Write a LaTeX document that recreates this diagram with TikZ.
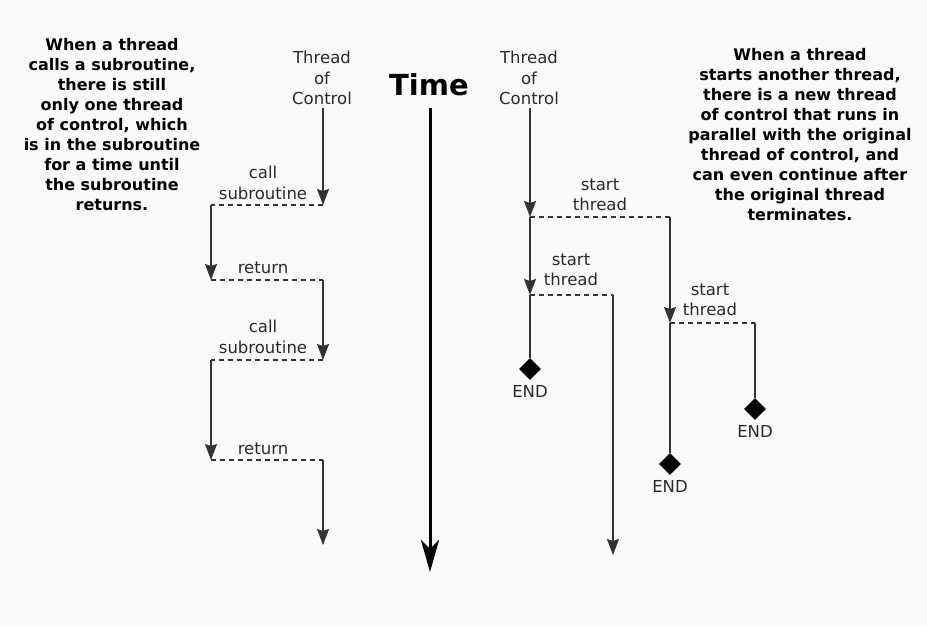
\documentclass[tikz,border=0pt]{standalone}
\usepackage{fontspec}
\setmainfont{DejaVu Sans}
\usetikzlibrary{arrows.meta,positioning,shapes.geometric}
\definecolor{linegray}{HTML}{333333}
\definecolor{txtgray}{HTML}{2A2A2A}
\definecolor{paper}{HTML}{FAFAFA}

\begin{document}
\begin{tikzpicture}[
    x=1pt, y=-1pt,
    >={Stealth[width=12pt,length=16pt,inset=2pt]},
    flow/.style={draw=linegray, line width=1.4pt},
    jump/.style={draw=linegray, line width=1.2pt, dash pattern=on 5pt off 4pt},
    lbl/.style={align=center, font=\fontsize{16.5}{20.5}\selectfont, text=txtgray, inner sep=0pt},
    note/.style={align=center, font=\fontsize{16}{20}\selectfont\bfseries, inner sep=0pt},
    stopmark/.style={diamond, fill=black, minimum size=22pt, inner sep=0pt}
    ]

    % page
    \fill[paper] (0,0) rectangle (927,625);
    \useasboundingbox (0,0) rectangle (927,625);

    % texts
    \node[note] (noteL) at (112,125) {When a thread\\calls a subroutine,\\there is still\\only one thread\\of control, which\\is in the subroutine\\for a time until\\the subroutine\\returns.};
    \node[note] (noteR) at (800,135) {When a thread\\starts another thread,\\there is a new thread\\of control that runs in\\parallel with the original\\thread of control, and\\can even continue after\\the original thread\\terminates.};
    \node[lbl] (tocL) at (322,78) {Thread\\of\\Control};
    \node[lbl] (tocR) at (529,78) {Thread\\of\\Control};
    \node[font=\fontsize{29}{30}\selectfont\bfseries, inner sep=0pt] (time) at (429,85) {Time};

    % subroutine side
    \coordinate (a0) at (323,108);
    \coordinate (a1) at (323,205);
    \coordinate (b1) at (211,205);
    \coordinate (b2) at (211,280);
    \coordinate (a2) at (323,280);
    \coordinate (a3) at (323,360);
    \coordinate (b3) at (211,360);
    \coordinate (b4) at (211,460);
    \coordinate (a4) at (323,460);
    \coordinate (a5) at (323,545);

    \draw[flow,->] (a0) -- (a1);
    \draw[jump] (a1) -- (b1);
    \draw[flow,->] (b1) -- (b2);
    \draw[jump] (b2) -- (a2);
    \draw[flow,->] (a2) -- (a3);
    \draw[jump] (a3) -- (b3);
    \draw[flow,->] (b3) -- (b4);
    \draw[jump] (b4) -- (a4);
    \draw[flow,->] (a4) -- (a5);

    \node[lbl] (call1) at (263,183) {call\\subroutine};
    \node[lbl] (ret1) at (263,268) {return};
    \node[lbl] (call2) at (263,337) {call\\subroutine};
    \node[lbl] (ret2) at (263,449) {return};

    % time axis
    \coordinate (t0) at (430,108);
    \coordinate (t1) at (430,572);
    \draw[line width=3pt, -{Stealth[width=18pt,length=32pt,inset=9pt]}] (t0) -- (t1);

    % thread side
    \coordinate (m0) at (530,108);
    \coordinate (m1) at (530,217);
    \coordinate (m2) at (530,295);
    \coordinate (n1) at (670,217);
    \coordinate (n2) at (670,323);
    \coordinate (p1) at (613,295);
    \coordinate (p2) at (613,555);
    \coordinate (q1) at (755,323);
    \node[stopmark] (e1) at (530,369) {};
    \node[stopmark] (e2) at (670,464) {};
    \node[stopmark] (e3) at (755,409) {};

    \draw[flow,->] (m0) -- (m1);
    \draw[flow,->] (m1) -- (m2);
    \draw[flow] (m2) -- (e1);
    \draw[jump] (m1) -- (n1);
    \draw[jump] (m2) -- (p1);
    \draw[flow,->] (n1) -- (n2);
    \draw[flow] (n2) -- (e2);
    \draw[flow,->] (p1) -- (p2);
    \draw[jump] (n2) -- (q1);
    \draw[flow] (q1) -- (e3);

    \node[lbl] (st1) at (600,195) {start\\thread};
    \node[lbl] (st2) at (571,270) {start\\thread};
    \node[lbl] (st3) at (710,300) {start\\thread};

    \node[lbl, below=5pt of e1] (end1) {END};
    \node[lbl, below=5pt of e2] (end2) {END};
    \node[lbl, below=5pt of e3] (end3) {END};

\end{tikzpicture}
\end{document}
